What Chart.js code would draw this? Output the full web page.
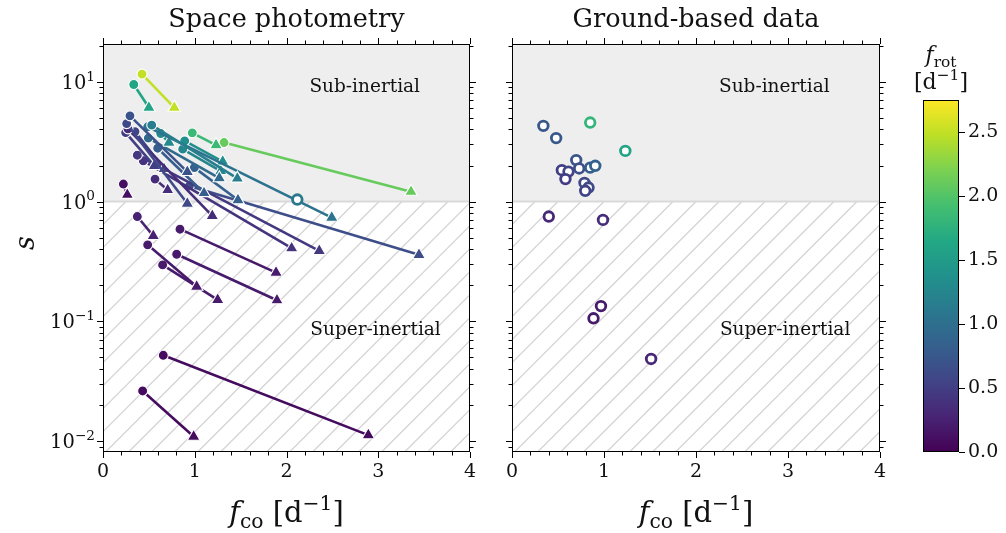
<!DOCTYPE html>
<html>
<head>
<meta charset="utf-8">
<script src="https://cdn.jsdelivr.net/npm/chart.js@4.4.1/dist/chart.umd.min.js"></script>
<style>
  body { margin: 0; background: #fff; }
  #wrap { position: relative; width: 1006px; height: 533px; }
  canvas { position: absolute; left: 0; top: 0; }
</style>
</head>
<body>
<div id="wrap">
  <canvas id="space" width="1006" height="533"></canvas>
  <canvas id="ground" width="1006" height="533"></canvas>
  <canvas id="cbar" width="1006" height="533"></canvas>
</div>
<script>
// Space photometry: each star goes from a circle (start) to a triangle (end)
const spaceStartX = [0.425, 0.335, 0.973, 1.319, 0.222,
  0.294, 0.258, 0.272, 0.247, 0.349, 0.531, 0.487, 0.629, 0.494, 0.596, 0.374, 0.439, 0.890, 0.869, 0.995, 0.567, 0.941,
  0.374, 0.839, 0.487, 0.803, 0.650, 0.657, 0.432];
const spaceStartS = [11.6, 9.5, 3.75, 3.11, 1.40,
  5.20, 4.48, 4.05, 3.77, 3.84, 4.35, 4.21, 3.70, 3.39, 2.79, 2.44, 2.19, 3.21, 2.74, 1.92, 1.54, 1.35,
  0.75, 0.588, 0.435, 0.363, 0.296, 0.052, 0.0262];
const spaceEndX = [0.777, 0.500, 1.232, 3.357, 0.265,
  0.919, 0.919, 1.191, 0.559, 0.665, 1.464, 2.493, 0.719, 1.268, 1.101, 2.357, 2.056, 1.305, 1.283, 1.471, 0.705, 3.444,
  0.548, 1.886, 1.021, 1.896, 1.250, 2.892, 0.988];
const spaceEndS = [6.1, 6.1, 2.96, 1.21, 1.14,
  1.77, 0.962, 0.76, 1.99, 1.87, 1.56, 0.735, 3.11, 1.57, 1.18, 0.388, 0.408, 2.16, 1.80, 1.03, 1.25, 0.359,
  0.517, 0.255, 0.195, 0.150, 0.151, 0.0112, 0.0109];
const spaceFrot = [2.5, 1.6, 1.85, 2.1, 0.12,
  0.7, 0.6, 0.35, 0.5, 0.55, 1.15, 1.05, 1.3, 0.95, 0.8, 0.45, 0.4, 1.35, 1.25, 0.85, 0.35, 0.65,
  0.25, 0.2, 0.2, 0.2, 0.2, 0.08, 0.08];

// open circle drawn in the space panel
const spaceOpenX = [2.118];
const spaceOpenS = [1.04];
const spaceOpenFrot = [1.1];

// Ground-based data
const groundX = [0.341, 0.480, 0.850, 1.232, 0.698, 0.542, 0.614, 0.730, 0.850, 0.905, 0.581, 0.788, 0.832, 0.796, 0.400, 0.989, 0.967, 0.886, 1.512];
const groundS = [4.29, 3.39, 4.57, 2.65, 2.22, 1.83, 1.78, 1.89, 1.92, 1.99, 1.54, 1.43, 1.31, 1.23, 0.75, 0.703, 0.134, 0.106, 0.0485];
const groundFrot = [0.75, 0.75, 1.8, 1.6, 0.7, 0.5, 0.55, 0.65, 0.8, 0.85, 0.5, 0.6, 0.6, 0.55, 0.3, 0.35, 0.2, 0.2, 0.3];

const xTicks = [0, 1, 2, 3, 4];
const yTicks = [0.01, 0.1, 1, 10];
const yTickExp = ["\u22122", "\u22121", "0", "1"];
const cbarTicks = [0, 0.5, 1, 1.5, 2, 2.5];
const frotMax = 2.75;

const SERIF = '"DejaVu Serif", serif';

// viridis colour map
const viridis = ["#440154", "#482475", "#414487", "#355f8d", "#2a788e", "#21918c", "#22a884", "#44bf70", "#7ad151", "#bddf26", "#fde725"];
function hexRgb(h) { return [parseInt(h.slice(1, 3), 16), parseInt(h.slice(3, 5), 16), parseInt(h.slice(5, 7), 16)]; }
function cmap(v) {
  let t = Math.max(0, Math.min(1, v / frotMax)) * 10;
  const i = Math.min(9, Math.floor(t));
  const f = t - i;
  const a = hexRgb(viridis[i]), b = hexRgb(viridis[i + 1]);
  const c = a.map((q, k) => Math.round(q + (b[k] - q) * f));
  return "rgb(" + c.join(",") + ")";
}

function font(size, italic) { return (italic ? "italic " : "") + size + "px " + SERIF; }

// draw text made of parts (italic / sub / sup)
function drawRich(ctx, parts, x, y, size, align) {
  let w = 0;
  const items = parts.map(p => {
    const s = (p.sub || p.sup) ? size * 0.7 : size;
    ctx.font = font(s, p.it);
    const mw = ctx.measureText(p.t).width;
    const dy = p.sub ? size * 0.22 : p.sup ? -size * 0.42 : 0;
    w += mw;
    return { t: p.t, f: ctx.font, mw: mw, dy: dy };
  });
  let cx = align === "center" ? x - w / 2 : align === "right" ? x - w : x;
  ctx.textAlign = "left";
  ctx.textBaseline = "alphabetic";
  items.forEach(it => { ctx.font = it.f; ctx.fillText(it.t, cx, y + it.dy); cx += it.mw; });
}

function minorLog(min, max) {
  const out = [];
  for (let d = -3; d <= 1; d++) {
    for (let m = 2; m <= 9; m++) {
      const v = m * Math.pow(10, d);
      if (v > min && v < max) out.push(v);
    }
  }
  return out;
}

const yMin = 0.0081, yMax = 20.7;

function panelPlugin(title, showYLabels) {
  return {
    id: "panel",
    beforeDatasetsDraw(chart) {
      const ctx = chart.ctx, a = chart.chartArea;
      const x = chart.scales.x, y = chart.scales.y;
      const y1 = y.getPixelForValue(1);
      ctx.save();
      ctx.fillStyle = "#eeeeee";
      ctx.fillRect(a.left, a.top, a.right - a.left, y1 - a.top);
      // hatch below s = 1
      ctx.beginPath();
      ctx.rect(a.left, y1, a.right - a.left, a.bottom - y1);
      ctx.clip();
      ctx.strokeStyle = "#d4d4d4";
      ctx.lineWidth = 1.3;
      const h = a.bottom - y1;
      for (let k = -h; k < a.right - a.left + 20; k += 23) {
        ctx.beginPath();
        ctx.moveTo(a.left + k, a.bottom);
        ctx.lineTo(a.left + k + h, y1);
        ctx.stroke();
      }
      ctx.restore();

      ctx.save();
      ctx.strokeStyle = "#d9d9d9";
      ctx.lineWidth = 2;
      ctx.beginPath();
      ctx.moveTo(a.left, y1);
      ctx.lineTo(a.right, y1);
      ctx.stroke();
      ctx.fillStyle = "#111";
      ctx.font = font(18.5, false);
      ctx.textAlign = "left";
      ctx.textBaseline = "middle";
      ctx.fillText("Sub-inertial", x.getPixelForValue(2.25), y.getPixelForValue(9.1));
      ctx.fillText("Super-inertial", x.getPixelForValue(2.26), y.getPixelForValue(0.084));
      ctx.restore();
    },
    afterDraw(chart) {
      const ctx = chart.ctx, a = chart.chartArea;
      const x = chart.scales.x, y = chart.scales.y;
      ctx.save();
      ctx.strokeStyle = "#000";
      ctx.lineWidth = 1;
      ctx.strokeRect(a.left + 0.5, a.top + 0.5, a.right - a.left - 1, a.bottom - a.top - 1);

      // x ticks, outward, top and bottom
      const xMinor = [];
      for (let v = 0.2; v < 4; v += 0.2) xMinor.push(v);
      ctx.beginPath();
      xTicks.forEach(v => {
        const px = Math.round(x.getPixelForValue(v)) + 0.5;
        ctx.moveTo(px, a.bottom); ctx.lineTo(px, a.bottom + 6);
        ctx.moveTo(px, a.top); ctx.lineTo(px, a.top - 6);
      });
      xMinor.forEach(v => {
        const px = Math.round(x.getPixelForValue(v)) + 0.5;
        ctx.moveTo(px, a.bottom); ctx.lineTo(px, a.bottom + 3.5);
        ctx.moveTo(px, a.top); ctx.lineTo(px, a.top - 3.5);
      });
      // y ticks, outward, left and right
      yTicks.forEach(v => {
        const py = Math.round(y.getPixelForValue(v)) + 0.5;
        ctx.moveTo(a.left, py); ctx.lineTo(a.left - 6, py);
        ctx.moveTo(a.right, py); ctx.lineTo(a.right + 6, py);
      });
      minorLog(yMin, yMax).forEach(v => {
        const py = Math.round(y.getPixelForValue(v)) + 0.5;
        ctx.moveTo(a.left, py); ctx.lineTo(a.left - 3.5, py);
        ctx.moveTo(a.right, py); ctx.lineTo(a.right + 3.5, py);
      });
      ctx.stroke();

      ctx.fillStyle = "#111";
      xTicks.forEach(v => {
        ctx.font = font(19, false);
        ctx.textAlign = "center";
        ctx.textBaseline = "alphabetic";
        ctx.fillText(String(v), x.getPixelForValue(v), a.bottom + 25);
      });
      if (showYLabels) {
        yTicks.forEach((v, i) => {
          drawRich(ctx, [{ t: "10" }, { t: yTickExp[i], sup: true }], a.left - 8, y.getPixelForValue(v) + 7, 19.5, "right");
        });
        ctx.save();
        ctx.translate(27, 243);
        ctx.rotate(-Math.PI / 2);
        drawRich(ctx, [{ t: "s", it: true }], 0, 7, 27, "center");
        ctx.restore();
      }
      drawRich(ctx, [{ t: "f", it: true }, { t: "co", sub: true }, { t: " [d" }, { t: "\u22121", sup: true }, { t: "]" }],
        (a.left + a.right) / 2, 522, 29, "center");
      ctx.font = font(25.5, false);
      ctx.textAlign = "center";
      ctx.textBaseline = "alphabetic";
      ctx.fillText(title, (a.left + a.right) / 2, 27);
      ctx.restore();
    }
  };
}

function commonOptions(padLeft, padRight) {
  return {
    responsive: false,
    animation: false,
    layout: { padding: { left: padLeft, right: padRight, top: 44, bottom: 81 } },
    plugins: { legend: { display: false }, tooltip: { enabled: false } },
    scales: {
      x: { type: "linear", min: 0, max: 4, display: false },
      y: { type: "logarithmic", min: yMin, max: yMax, display: false }
    }
  };
}

// space datasets: one line per star
const spaceSets = spaceStartX.map((sx, i) => {
  const c = cmap(spaceFrot[i]);
  return {
    data: [{ x: sx, y: spaceStartS[i] }, { x: spaceEndX[i], y: spaceEndS[i] }],
    showLine: true,
    borderColor: c,
    borderWidth: 2.6,
    pointStyle: ["circle", "triangle"],
    pointRadius: [5, 7.3],
    pointBackgroundColor: c,
    pointBorderColor: "#ffffff",
    pointBorderWidth: 1.1
  };
});
spaceSets.unshift({
  data: spaceOpenX.map((v, i) => ({ x: v, y: spaceOpenS[i] })),
  pointRadius: 4.8,
  pointBackgroundColor: "#ffffff",
  pointBorderColor: spaceOpenFrot.map(cmap),
  pointBorderWidth: 2.8
});

new Chart(document.getElementById("space"), {
  type: "scatter",
  data: { datasets: spaceSets },
  options: commonOptions(103, 1006 - 470),
  plugins: [panelPlugin("Space photometry", true)]
});

new Chart(document.getElementById("ground"), {
  type: "scatter",
  data: {
    datasets: [{
      data: groundX.map((v, i) => ({ x: v, y: groundS[i] })),
      pointRadius: 4.8,
      pointBackgroundColor: "#ffffff",
      pointBorderColor: groundFrot.map(cmap),
      pointBorderWidth: 2.8
    }]
  },
  options: commonOptions(512, 1006 - 880),
  plugins: [panelPlugin("Ground-based data", false)]
});

// colour bar
new Chart(document.getElementById("cbar"), {
  type: "scatter",
  data: { datasets: [] },
  options: {
    responsive: false,
    animation: false,
    layout: { padding: { left: 923, right: 1006 - 959, top: 100, bottom: 533 - 452 } },
    plugins: { legend: { display: false }, tooltip: { enabled: false } },
    scales: {
      x: { type: "linear", min: 0, max: 1, display: false },
      y: { type: "linear", min: 0, max: frotMax, display: false }
    }
  },
  plugins: [{
    id: "cbar",
    afterDraw(chart) {
      const ctx = chart.ctx, a = chart.chartArea, y = chart.scales.y;
      ctx.save();
      const g = ctx.createLinearGradient(0, a.bottom, 0, a.top);
      viridis.forEach((c, i) => g.addColorStop(i / 10, c));
      ctx.fillStyle = g;
      ctx.fillRect(a.left, a.top, a.right - a.left, a.bottom - a.top);
      ctx.strokeStyle = "#000";
      ctx.lineWidth = 1;
      ctx.strokeRect(a.left + 0.5, a.top + 0.5, a.right - a.left - 1, a.bottom - a.top - 1);
      ctx.beginPath();
      cbarTicks.forEach(v => {
        const py = Math.round(y.getPixelForValue(v)) + 0.5;
        ctx.moveTo(a.right, py); ctx.lineTo(a.right + 6, py);
      });
      ctx.stroke();
      ctx.fillStyle = "#111";
      ctx.font = font(19, false);
      ctx.textAlign = "left";
      ctx.textBaseline = "middle";
      cbarTicks.forEach(v => ctx.fillText(v.toFixed(1), a.right + 9, y.getPixelForValue(v)));
      const cx = (a.left + a.right) / 2;
      drawRich(ctx, [{ t: "f", it: true }, { t: "rot", sub: true }], cx, 62, 22, "center");
      drawRich(ctx, [{ t: "[d" }, { t: "\u22121", sup: true }, { t: "]" }], cx, 89, 22, "center");
      ctx.restore();
    }
  }]
});
</script>
</body>
</html>
